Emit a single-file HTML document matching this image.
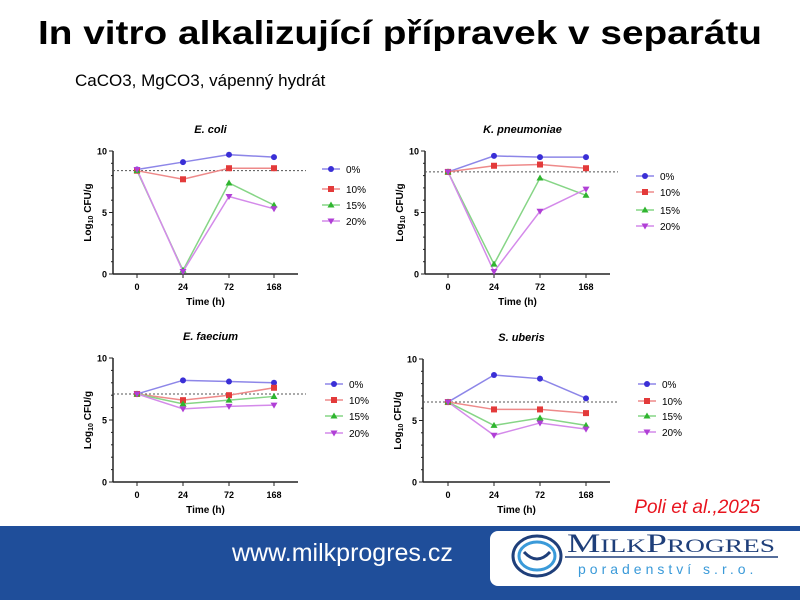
<!DOCTYPE html>
<html><head><meta charset="utf-8"><style>
html,body{margin:0;padding:0;background:#fff;width:800px;height:600px;overflow:hidden}
svg{display:block}
</style></head><body>
<svg id="s" width="800" height="600" xmlns="http://www.w3.org/2000/svg" font-family="Liberation Sans, sans-serif">
<text x="400" y="44" text-anchor="middle" font-size="33" font-weight="bold" fill="#000" textLength="724" lengthAdjust="spacingAndGlyphs">In vitro alkalizující přípravek v separátu</text>
<text x="75" y="86" font-size="17" fill="#000">CaCO3, MgCO3, vápenný hydrát</text>
<text x="760" y="513" text-anchor="end" font-size="19" font-style="italic" fill="#e8141e">Poli et al.,2025</text>
<rect x="0" y="526" width="800" height="74" fill="#1f4e9a"/>
<text x="232" y="561" font-size="25" fill="#fff">www.milkprogres.cz</text>
<rect x="490" y="531" width="320" height="55" rx="8" fill="#fff"/>
<ellipse cx="537" cy="556" rx="24" ry="20" fill="none" stroke="#1f3f7a" stroke-width="3"/>
<ellipse cx="537" cy="556" rx="18" ry="14" fill="none" stroke="#3a9ad9" stroke-width="3"/>
<path d="M524 552 Q537 566 550 552" fill="none" stroke="#1f3f7a" stroke-width="3"/>
<text x="567" y="552" font-family="Liberation Serif, serif" font-size="26" fill="#1f3f7a" textLength="208" lengthAdjust="spacingAndGlyphs">M<tspan font-size="19">ILK</tspan>P<tspan font-size="19">ROGRES</tspan></text>
<line x1="565" y1="557" x2="778" y2="557" stroke="#1f3f7a" stroke-width="1.5"/>
<text x="578" y="574" font-size="14" fill="#3a9ad9" letter-spacing="4">poradenství s.r.o.</text>
<g id="charts"></g>
</svg>
<script>
const g=document.getElementById('charts');
const cols=['#3a2fd6','#e33a3a','#2fb52f','#b03fd6'];
const lcols=['#8d86e8','#ee8a8a','#86d586','#d48aea'];
const panels=[
 {ax:113,y10:151,y0:274,xs:[137,183,229,274],title:'E. coli',dot:8.4,lx:322,ly:[169,189,205,221],
  d:[[8.5,9.1,9.7,9.5],[8.4,7.7,8.6,8.6],[8.4,0.3,7.4,5.6],[8.5,0.2,6.3,5.3]]},
 {ax:425,y10:151,y0:274,xs:[448,494,540,586],title:'K. pneumoniae',dot:8.3,lx:636,ly:[176,192,210,226],
  d:[[8.3,9.6,9.5,9.5],[8.3,8.8,8.9,8.6],[8.3,0.8,7.8,6.4],[8.3,0.2,5.1,6.9]]},
 {ax:113,y10:358,y0:482,xs:[137,183,229,274],title:'E. faecium',dot:7.1,lx:325,ly:[384,400,416,433],
  d:[[7.1,8.2,8.1,8.0],[7.1,6.6,7.0,7.6],[7.1,6.3,6.6,6.9],[7.1,5.9,6.1,6.2]]},
 {ax:423,y10:359,y0:482,xs:[448,494,540,586],title:'S. uberis',dot:6.5,lx:638,ly:[384,401,416,432],
  d:[[6.5,8.7,8.4,6.8],[6.5,5.9,5.9,5.6],[6.5,4.6,5.2,4.6],[6.5,3.8,4.8,4.3]]}
];
let h='';
const labs=['0%','10%','15%','20%'];
function mk(i,x,y){
 const c=cols[i];
 if(i==0)return `<circle cx="${x}" cy="${y}" r="3" fill="${c}"/>`;
 if(i==1)return `<rect x="${x-3}" y="${y-3}" width="6" height="6" fill="${c}"/>`;
 if(i==2)return `<polygon points="${x},${y-3.5} ${x+3.5},${y+2.5} ${x-3.5},${y+2.5}" fill="${c}"/>`;
 return `<polygon points="${x},${y+3.5} ${x+3.5},${y-2.5} ${x-3.5},${y-2.5}" fill="${c}"/>`;
}
for(const p of panels){
 const Y=v=>p.y0+(p.y10-p.y0)*v/10;
 const xend=p.xs[3]+24;
 h+=`<text x="${(p.ax+xend)/2+5}" y="${p.y10-18}" text-anchor="middle" font-size="11" font-weight="bold" font-style="italic">${p.title}</text>`;
 h+=`<line x1="${p.ax}" y1="${p.y10}" x2="${p.ax}" y2="${p.y0}" stroke="#222" stroke-width="1.5"/>`;
 h+=`<line x1="${p.ax}" y1="${p.y0}" x2="${xend}" y2="${p.y0}" stroke="#222" stroke-width="1.5"/>`;
 for(let v=0;v<=10;v++){const w=v%5==0?4:2;h+=`<line x1="${p.ax-w}" y1="${Y(v)}" x2="${p.ax}" y2="${Y(v)}" stroke="#222"/>`;}
 for(const v of [0,5,10])h+=`<text x="${p.ax-6}" y="${Y(v)+3.5}" text-anchor="end" font-size="9" font-weight="bold">${v}</text>`;
 ['0','24','72','168'].forEach((t,i)=>{h+=`<line x1="${p.xs[i]}" y1="${p.y0}" x2="${p.xs[i]}" y2="${p.y0+4}" stroke="#222"/><text x="${p.xs[i]}" y="${p.y0+16}" text-anchor="middle" font-size="9" font-weight="bold">${t}</text>`;});
 h+=`<text x="${(p.ax+xend)/2}" y="${p.y0+31}" text-anchor="middle" font-size="10" font-weight="bold">Time (h)</text>`;
 const cy=(p.y0+p.y10)/2;
 h+=`<text transform="translate(${p.ax-22},${cy}) rotate(-90)" text-anchor="middle" font-size="10" font-weight="bold">Log<tspan font-size="7" dy="2">10</tspan><tspan dy="-2"> CFU/g</tspan></text>`;
 h+=`<line x1="${p.ax}" y1="${Y(p.dot)}" x2="${xend+8}" y2="${Y(p.dot)}" stroke="#555" stroke-dasharray="2,2"/>`;
 p.d.forEach((s,i)=>{
  h+=`<polyline points="${s.map((v,j)=>p.xs[j]+','+Y(v)).join(' ')}" fill="none" stroke="${lcols[i]}" stroke-width="1.5"/>`;
 });
 p.d.forEach((s,i)=>{s.forEach((v,j)=>h+=mk(i,p.xs[j],Y(v)));});
 p.ly.forEach((y,i)=>{
  h+=`<line x1="${p.lx}" y1="${y}" x2="${p.lx+18}" y2="${y}" stroke="${lcols[i]}" stroke-width="1.5"/>`+mk(i,p.lx+9,y);
  h+=`<text x="${p.lx+24}" y="${y+4}" font-size="10">${labs[i]}</text>`;
 });
}
g.innerHTML=h;
</script>
</body></html>
